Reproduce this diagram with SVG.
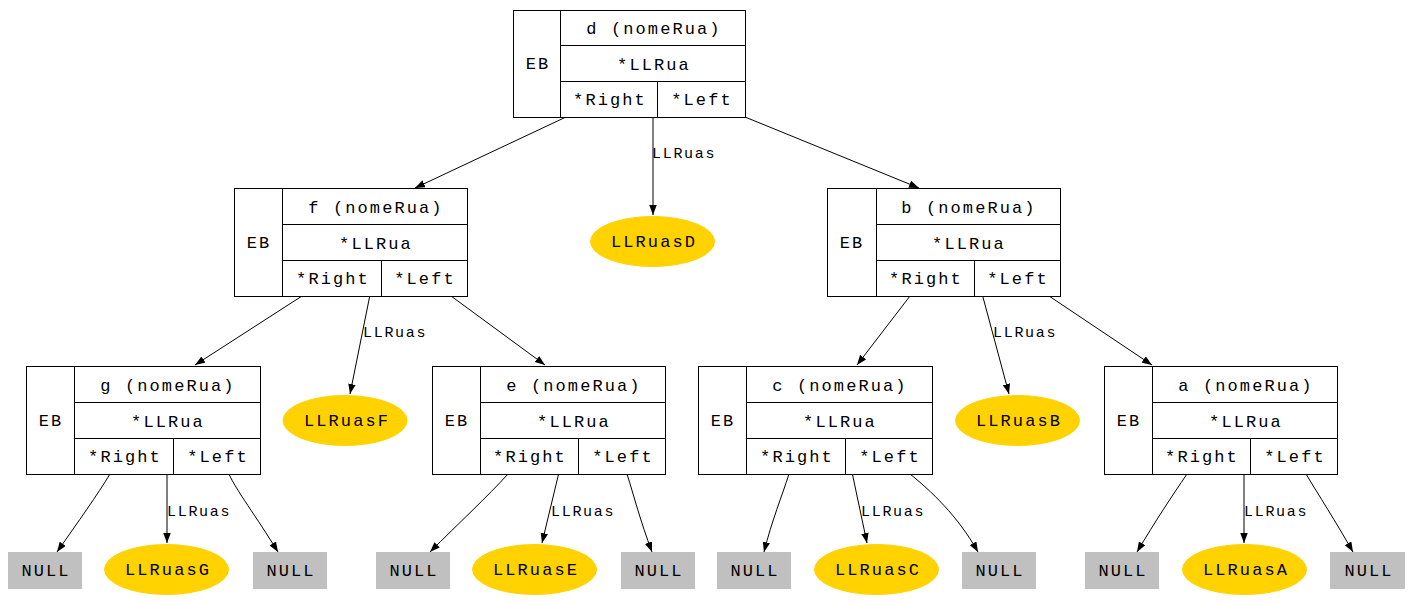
<svg xmlns="http://www.w3.org/2000/svg" width="1410" height="602" viewBox="0 0 1410 602">
<defs>
<style>
.box{fill:#fff;stroke:#000;stroke-width:1}
.ln{stroke:#000;stroke-width:1;fill:none}
.t{font-family:"Liberation Mono","DejaVu Sans Mono",monospace;font-size:17px;letter-spacing:2.1px;text-anchor:middle;fill:#000}
.lb{font-family:"Liberation Mono","DejaVu Sans Mono",monospace;font-size:15px;letter-spacing:1.7px;fill:#000}
.ell{fill:#ffd200;stroke:#ffd200}
.nul{fill:#c0c0c0;stroke:#c0c0c0}
.e{stroke:#000;stroke-width:1;fill:none;marker-end:url(#ah)}
</style>
<marker id="ah" markerUnits="userSpaceOnUse" markerWidth="11" markerHeight="8" refX="10" refY="3.75" orient="auto">
<path d="M0,0 L10,3.75 L0,7.5 z" fill="#000"/>
</marker>
</defs>
<rect width="1410" height="602" fill="#fff"/>

<g id="edges">
<line class="e" x1="566" y1="117" x2="415" y2="188"/>
<line class="e" x1="745" y1="117" x2="919" y2="188"/>
<line class="e" x1="653" y1="81" x2="653" y2="215"/>
<line class="e" x1="302" y1="296" x2="195" y2="365"/>
<line class="e" x1="451" y1="296" x2="545" y2="365"/>
<line class="e" x1="377" y1="260" x2="350" y2="394"/>
<line class="e" x1="910" y1="296" x2="857" y2="365"/>
<line class="e" x1="1049" y1="296" x2="1152" y2="365"/>
<line class="e" x1="973" y1="260" x2="1009" y2="394"/>
<path class="e" d="M110,474 C98,494 78,522 57,552"/>
<line class="e" x1="167" y1="439" x2="167" y2="543"/>
<path class="e" d="M229,474 C236,490 256,516 278,552"/>
<path class="e" d="M508,474 C488,496 458,524 430,552"/>
<line class="e" x1="567" y1="439" x2="542" y2="543"/>
<path class="e" d="M627,474 C634,496 640,520 652,552"/>
<path class="e" d="M789,474 C782,496 772,520 764,552"/>
<line class="e" x1="845" y1="439" x2="867" y2="543"/>
<path class="e" d="M910,474 C930,490 958,516 978,552"/>
<path class="e" d="M1187,474 C1172,496 1156,520 1137,552"/>
<line class="e" x1="1244" y1="439" x2="1244" y2="543"/>
<path class="e" d="M1306,474 C1318,494 1336,522 1353,552"/>
<text class="lb" x="652" y="158">LLRuas</text>
<text class="lb" x="363" y="337">LLRuas</text>
<text class="lb" x="993" y="337">LLRuas</text>
<text class="lb" x="167" y="516">LLRuas</text>
<text class="lb" x="551" y="516">LLRuas</text>
<text class="lb" x="861" y="516">LLRuas</text>
<text class="lb" x="1244" y="516">LLRuas</text>
</g>

<g id="node-d">
<rect class="box" x="513.5" y="10.5" width="232" height="107"/>
<path class="ln" d="M560.5,10.5V117.5M560.5,45.5H745.5M560.5,81.5H745.5M657.5,81.5V117.5"/>
<text class="t" x="538" y="69">EB</text>
<text class="t" x="654" y="34">d (nomeRua)</text>
<text class="t" x="654" y="70">*LLRua</text>
<text class="t" x="610" y="105">*Right</text>
<text class="t" x="702" y="105">*Left</text>
</g>

<g id="node-f">
<rect class="box" x="234.5" y="188.5" width="233" height="108"/>
<path class="ln" d="M282.5,188.5V296.5M282.5,224.5H467.5M282.5,260.5H467.5M381.5,260.5V296.5"/>
<text class="t" x="259" y="248">EB</text>
<text class="t" x="376" y="213">f (nomeRua)</text>
<text class="t" x="376" y="249">*LLRua</text>
<text class="t" x="333" y="284">*Right</text>
<text class="t" x="425" y="284">*Left</text>
</g>

<g id="node-b">
<rect class="box" x="827.5" y="188.5" width="233" height="108"/>
<path class="ln" d="M876.5,188.5V296.5M876.5,224.5H1060.5M876.5,260.5H1060.5M974.5,260.5V296.5"/>
<text class="t" x="852" y="248">EB</text>
<text class="t" x="969" y="213">b (nomeRua)</text>
<text class="t" x="969" y="249">*LLRua</text>
<text class="t" x="926" y="284">*Right</text>
<text class="t" x="1018" y="284">*Left</text>
</g>

<g id="node-g">
<rect class="box" x="26.5" y="366.5" width="234" height="108"/>
<path class="ln" d="M74.5,366.5V474.5M74.5,402.5H260.5M74.5,438.5H260.5M173.5,438.5V474.5"/>
<text class="t" x="51" y="426">EB</text>
<text class="t" x="168" y="391">g (nomeRua)</text>
<text class="t" x="168" y="427">*LLRua</text>
<text class="t" x="125" y="462">*Right</text>
<text class="t" x="218" y="462">*Left</text>
</g>

<g id="node-e">
<rect class="box" x="432.5" y="366.5" width="233" height="108"/>
<path class="ln" d="M480.5,366.5V474.5M480.5,402.5H665.5M480.5,438.5H665.5M578.5,438.5V474.5"/>
<text class="t" x="457" y="426">EB</text>
<text class="t" x="574" y="391">e (nomeRua)</text>
<text class="t" x="574" y="427">*LLRua</text>
<text class="t" x="530" y="462">*Right</text>
<text class="t" x="623" y="462">*Left</text>
</g>

<g id="node-c">
<rect class="box" x="698.5" y="366.5" width="234" height="108"/>
<path class="ln" d="M746.5,366.5V474.5M746.5,402.5H932.5M746.5,438.5H932.5M845.5,438.5V474.5"/>
<text class="t" x="723" y="426">EB</text>
<text class="t" x="840" y="391">c (nomeRua)</text>
<text class="t" x="840" y="427">*LLRua</text>
<text class="t" x="797" y="462">*Right</text>
<text class="t" x="890" y="462">*Left</text>
</g>

<g id="node-a">
<rect class="box" x="1104.5" y="366.5" width="233" height="108"/>
<path class="ln" d="M1152.5,366.5V474.5M1152.5,402.5H1337.5M1152.5,438.5H1337.5M1250.5,438.5V474.5"/>
<text class="t" x="1129" y="426">EB</text>
<text class="t" x="1246" y="391">a (nomeRua)</text>
<text class="t" x="1246" y="427">*LLRua</text>
<text class="t" x="1202" y="462">*Right</text>
<text class="t" x="1295" y="462">*Left</text>
</g>

<g id="LLRuasD"><ellipse class="ell" cx="652.5" cy="241.5" rx="62" ry="25"/><text class="t" x="654" y="247">LLRuasD</text></g>
<g id="LLRuasF"><ellipse class="ell" cx="345" cy="420.5" rx="62" ry="25"/><text class="t" x="347" y="426">LLRuasF</text></g>
<g id="LLRuasB"><ellipse class="ell" cx="1017.5" cy="420.5" rx="62" ry="25"/><text class="t" x="1019" y="426">LLRuasB</text></g>
<g id="LLRuasG"><ellipse class="ell" cx="166.5" cy="569.5" rx="62" ry="25"/><text class="t" x="168" y="575">LLRuasG</text></g>
<g id="LLRuasE"><ellipse class="ell" cx="534.5" cy="569.5" rx="62" ry="25"/><text class="t" x="536" y="575">LLRuasE</text></g>
<g id="LLRuasC"><ellipse class="ell" cx="876.5" cy="569.5" rx="62" ry="25"/><text class="t" x="878" y="575">LLRuasC</text></g>
<g id="LLRuasA"><ellipse class="ell" cx="1244.5" cy="569.5" rx="62" ry="25"/><text class="t" x="1246" y="575">LLRuasA</text></g>

<g id="null-g1"><rect class="nul" x="8.5" y="552.5" width="73" height="36"/><text class="t" x="46" y="576">NULL</text></g>
<g id="null-g2"><rect class="nul" x="253.5" y="552.5" width="73" height="36"/><text class="t" x="291" y="576">NULL</text></g>
<g id="null-e1"><rect class="nul" x="376.5" y="552.5" width="73" height="36"/><text class="t" x="414" y="576">NULL</text></g>
<g id="null-e2"><rect class="nul" x="621.5" y="552.5" width="73" height="36"/><text class="t" x="659" y="576">NULL</text></g>
<g id="null-c1"><rect class="nul" x="717.5" y="552.5" width="73" height="36"/><text class="t" x="755" y="576">NULL</text></g>
<g id="null-c2"><rect class="nul" x="962.5" y="552.5" width="73" height="36"/><text class="t" x="1000" y="576">NULL</text></g>
<g id="null-a1"><rect class="nul" x="1085.5" y="552.5" width="73" height="36"/><text class="t" x="1123" y="576">NULL</text></g>
<g id="null-a2"><rect class="nul" x="1330.5" y="552.5" width="74" height="36"/><text class="t" x="1369" y="576">NULL</text></g>
</svg>
